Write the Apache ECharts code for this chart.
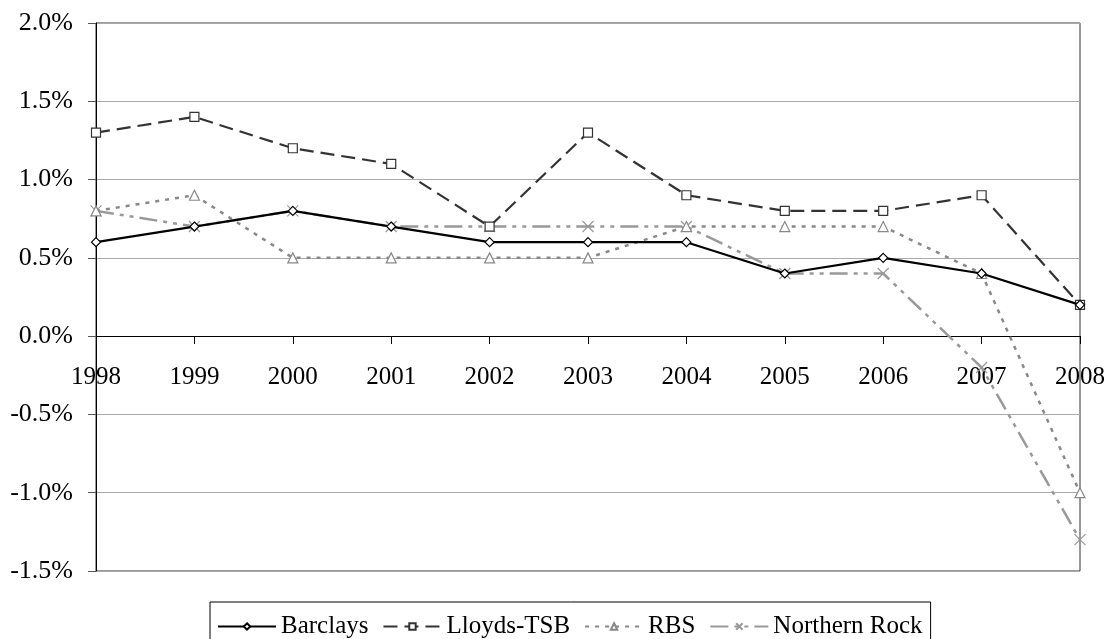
<!DOCTYPE html>
<html><head><meta charset="utf-8">
<script src="https://cdn.jsdelivr.net/npm/echarts@6/dist/echarts.min.js"></script>
<style>html,body{margin:0;padding:0;background:#fff}#c{width:1108px;height:639px}</style>
</head><body><div id="c"></div>
<script>
const years = ['1998','1999','2000','2001','2002','2003','2004','2005','2006','2007','2008'];
const barclays = [0.6,0.7,0.8,0.7,0.6,0.6,0.6,0.4,0.5,0.4,0.2];
const lloyds = [1.3,1.4,1.2,1.1,0.7,1.3,0.9,0.8,0.8,0.9,0.2];
const rbs = [0.8,0.9,0.5,0.5,0.5,0.5,0.7,0.7,0.7,0.4,-1.0];
const northernRock = [0.8,0.7,0.8,0.7,0.7,0.7,0.7,0.4,0.4,-0.2,-1.3];

const font = 'Liberation Serif';
const chart = echarts.init(document.getElementById('c'));
const gridTop = 23, gridBottom = 68, H = 639;
const yMin = -1.5, yMax = 2.0;
const plotH = H - gridTop - gridBottom;
const zeroOffset = -Math.round(plotH * (0 - yMin) / (yMax - yMin));
chart.setOption({
  animation:false,
  backgroundColor:'#fff',
  grid:{left:96,right:28,top:gridTop,bottom:gridBottom,show:true,borderColor:'#333',borderWidth:1},
  legend:{
    top:602,left:210,
    padding:[12,8,14,7],
    borderColor:'#000',borderWidth:1,
    itemWidth:58,itemHeight:8,itemGap:14,
    textStyle:{fontFamily:font,fontSize:25,color:'#000'},
    data:['Barclays','Lloyds-TSB','RBS','Northern Rock']
  },
  xAxis:{
    type:'category',data:years,boundaryGap:false,
    offset:zeroOffset,
    axisLine:{onZero:false,lineStyle:{color:'#000',width:1}},
    axisTick:{show:true,inside:false,length:8,lineStyle:{color:'#000'}},
    axisLabel:{fontFamily:font,fontSize:25,color:'#000',margin:29},
    splitLine:{show:false}
  },
  yAxis:{
    type:'value',min:yMin,max:yMax,interval:0.5,
    axisLine:{show:true,lineStyle:{color:'#000'}},
    axisTick:{show:true,inside:false,length:8,lineStyle:{color:'#555'}},
    axisLabel:{fontFamily:font,fontSize:26,color:'#000',margin:23,formatter:v=>v.toFixed(1)+'%'},
    splitLine:{show:true,lineStyle:{color:'#aaa',width:1}}
  },
  series:[
    {name:'Barclays',type:'line',data:barclays,symbol:'diamond',symbolSize:9,
     lineStyle:{color:'#000',width:2.2,type:'solid'},
     itemStyle:{color:'#fff',borderColor:'#000',borderWidth:1.2},z:5},
    {name:'Lloyds-TSB',type:'line',data:lloyds,symbol:'rect',symbolSize:9,
     lineStyle:{color:'#333',width:2.2,type:[14,7]},
     itemStyle:{color:'#fff',borderColor:'#333',borderWidth:1.2},z:4},
    {name:'RBS',type:'line',data:rbs,symbol:'triangle',symbolSize:10,
     lineStyle:{color:'#888',width:2.5,type:[4,6]},
     itemStyle:{color:'#fff',borderColor:'#888',borderWidth:1.2},z:3},
    {name:'Northern Rock',type:'line',data:northernRock,symbol:'path://M0,0L10,10M10,0L0,10',symbolSize:11,
     lineStyle:{color:'#999',width:2.5,type:[18,6,4,6,4,6]},
     itemStyle:{color:'#999',borderColor:'#999',borderWidth:1.2},z:2}
  ]
});
</script></body></html>
